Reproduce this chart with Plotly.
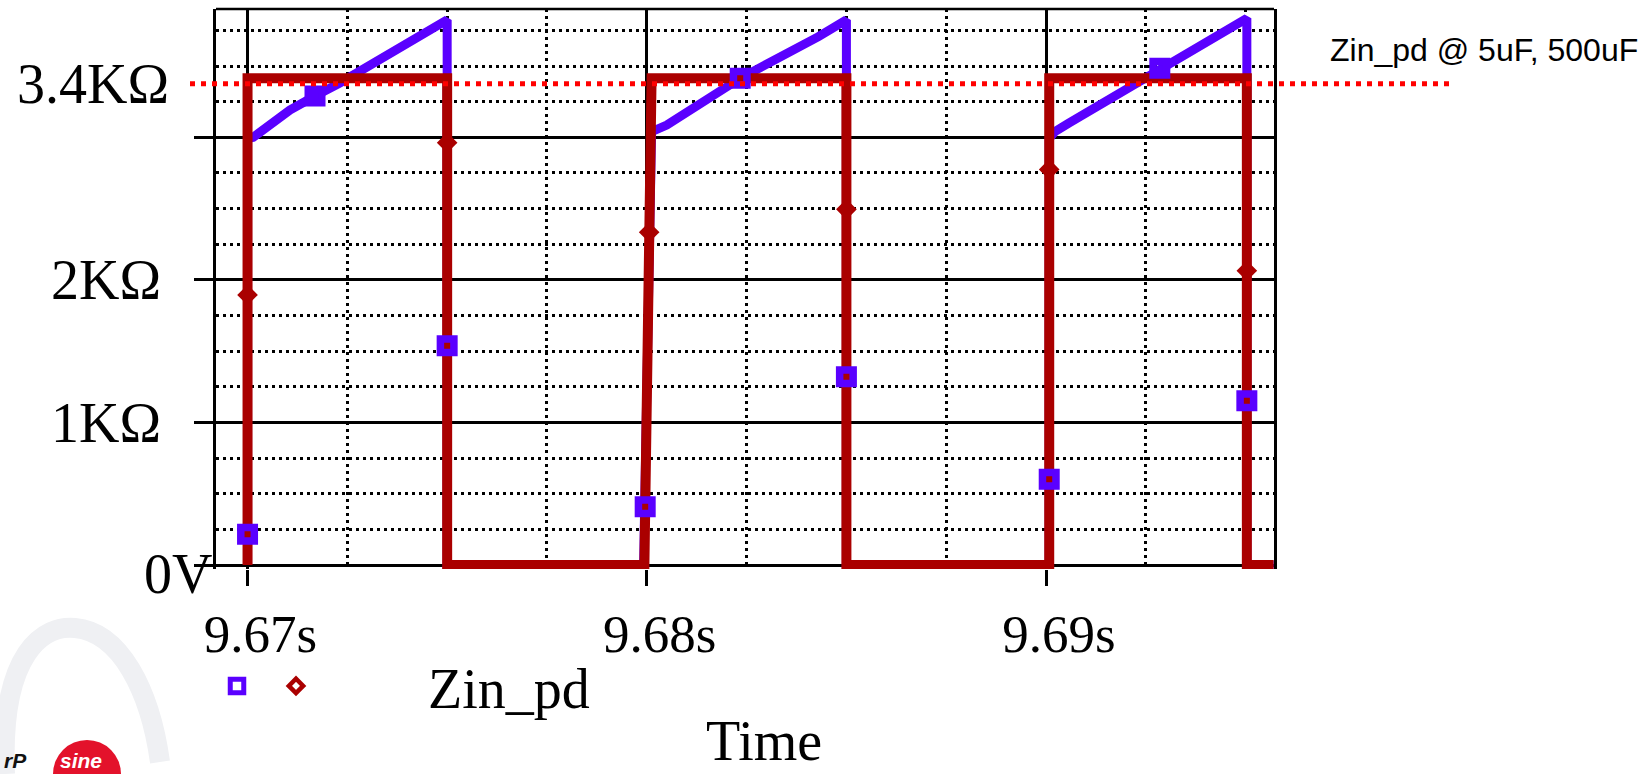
import plotly.graph_objects as go

# ---------------- data ----------------
# Blue trace (Zin_pd, 5uF case) - line vertices (time s, ohms)
blue_t = [9.67000, 9.67000, 9.67014, 9.67045, 9.67066, 9.67106, 9.67169, 9.67231, 9.67500, 9.67500,
          9.67992, 9.68012, 9.68050, 9.68234, 9.68430, 9.68500, 9.68500,
          9.69008, 9.69008, 9.69022, 9.69056, 9.69285, 9.69437, 9.69503, 9.69503, 9.69570]
blue_v = [0, 2990, 3000, 3065, 3107, 3191, 3290, 3381, 3823, 0,
          0, 3039, 3086, 3414, 3706, 3823, 0,
          0, 2990, 3039, 3098, 3484, 3729, 3835, 0, 0]

# Red trace (Zin_pd, 500uF case) - line vertices
red_t = [9.67000, 9.67000, 9.67500, 9.67500, 9.67994, 9.68012, 9.68500, 9.68500,
         9.69008, 9.69008, 9.69503, 9.69503, 9.69570]
red_v = [0, 3415, 3415, 0, 0, 3415, 3415, 0,
         0, 3415, 3415, 0, 0]

# Marker sample points
blue_mk_t = [9.67000, 9.67169, 9.67500, 9.67996, 9.68234, 9.68500, 9.69008, 9.69285, 9.69503]
blue_mk_v = [216, 3290, 1538, 409, 3414, 1320, 601, 3484, 1152]
red_mk_t = [9.67000, 9.67500, 9.68006, 9.68500, 9.69008, 9.69503]
red_mk_v = [1894, 2962, 2334, 2495, 2775, 2064]

x_tick_vals = [9.67, 9.68, 9.69]
x_tick_text = ["9.67s", "9.68s", "9.69s"]
y_tick_vals = [0, 1000, 2000, 3000]
y_tick_text = ["", "1K\u03a9", "2K\u03a9", ""]
zero_label = "0V"
ref_level = 3375
ref_label = "3.4K\u03a9"
series_name = "Zin_pd"
note_text = "Zin_pd @ 5uF, 500uF"

BLUE = "#5a00ff"
RED = "#aa0000"
SERIF = "Liberation Serif"

# ---------------- geometry helpers (pixel -> paper) ----------------
W, H = 1652, 774
ML, MR, MT, MB = 216, 378, 9, 205
PW = W - ML - MR
PH = H - MT - MB


def px(xp):
    return (xp - ML) / PW


def py(yp):
    return (H - MB - yp) / PH


fig = go.Figure()
fig.add_trace(go.Scatter(x=blue_t, y=blue_v, mode="lines", line=dict(color=BLUE, width=9),
                         showlegend=False, hoverinfo="skip"))
fig.add_trace(go.Scatter(x=red_t, y=red_v, mode="lines", line=dict(color=RED, width=10),
                         showlegend=False, hoverinfo="skip"))
fig.add_trace(go.Scatter(x=blue_mk_t, y=blue_mk_v, mode="markers", name="\u00a0",
                         marker=dict(symbol="square-open", size=13.5, color=BLUE,
                                     line=dict(color=BLUE, width=7.5)),
                         cliponaxis=False))
fig.add_trace(go.Scatter(x=red_mk_t, y=red_mk_v, mode="markers",
                         name="\u00a0" * 8 + series_name,
                         marker=dict(symbol="diamond-open", size=11, color=RED,
                                     line=dict(color=RED, width=4.5)),
                         cliponaxis=False))

grid_dash = "3px,4px"
fig.update_xaxes(
    range=[9.66921, 9.69571],
    tickmode="array", tickvals=x_tick_vals, ticktext=x_tick_text,
    ticks="outside", ticklen=16, tickwidth=2.5, tickcolor="black",
    showgrid=True, gridcolor="black", gridwidth=2.5,
    showline=False, zeroline=False,
    tickfont=dict(family=SERIF, size=53, color="black"),
    ticklabelshift=13, ticklabelstandoff=2,
    minor=dict(tickmode="linear", tick0=9.67, dtick=0.0025, showgrid=True,
               gridcolor="black", gridwidth=2.5, griddash=grid_dash, ticks=""),
)
fig.update_yaxes(
    range=[-28, 3900],
    tickmode="array", tickvals=y_tick_vals, ticktext=y_tick_text,
    ticks="outside", ticklen=19, tickwidth=2.5, tickcolor="black",
    showgrid=True, gridcolor="black", gridwidth=2.5,
    showline=True, linecolor="black", linewidth=2.5, mirror=True,
    zeroline=True, zerolinecolor="black", zerolinewidth=2.5,
    tickfont=dict(family=SERIF, size=56, color="black"),
    ticklabelstandoff=22,
    minor=dict(tickmode="linear", tick0=0, dtick=250, showgrid=True,
               gridcolor="black", gridwidth=2.5, griddash=grid_dash, ticks=""),
)

shapes = [
    # top frame line
    dict(type="line", xref="paper", yref="paper", x0=0, x1=1, y0=1, y1=1,
         line=dict(color="black", width=2.5), layer="below"),
    # reference level dotted line
    dict(type="line", xref="paper", yref="y", x0=px(190), x1=px(1449), y0=ref_level, y1=ref_level,
         line=dict(color="#ff0000", width=5, dash="5px,6px"), layer="above"),
    # faint watermark swoosh
    dict(type="path", xref="paper", yref="paper",
         path=(f"M {px(5)},{py(774)} C {px(0)},{py(650)} {px(45)},{py(625)} {px(75)},{py(628)} "
               f"C {px(120)},{py(632)} {px(150)},{py(690)} {px(160)},{py(762)}"),
         line=dict(color="#eff0f3", width=20), layer="below"),
    # logo red disc
    dict(type="circle", xref="paper", yref="paper", x0=px(53), x1=px(121), y0=py(808), y1=py(740),
         fillcolor="#e3122b", line=dict(width=0), layer="above"),
]

annotations = [
    dict(text=ref_label, xref="paper", yref="y", x=px(171), y=ref_level, xanchor="right",
         yanchor="middle", showarrow=False, font=dict(family=SERIF, size=56, color="black")),
    dict(text=zero_label, xref="paper", yref="paper", x=px(214), y=py(574), xanchor="right",
         yanchor="middle", showarrow=False, font=dict(family=SERIF, size=56, color="black")),
    dict(text=note_text, xref="paper", yref="paper", x=px(1328), y=py(50), xanchor="left",
         yanchor="middle", showarrow=False,
         font=dict(family="Liberation Sans", size=32, color="black")),
    dict(text="Time", xref="paper", yref="paper", x=px(764), y=py(774), xanchor="center",
         yanchor="bottom", showarrow=False, font=dict(family=SERIF, size=56, color="black")),
    dict(text="<b><i>rP</i></b>", xref="paper", yref="paper", x=px(2), y=py(774), xanchor="left",
         yanchor="bottom", showarrow=False,
         font=dict(family="Liberation Sans", size=21, color="#111111")),
    dict(text="<b><i>sine</i></b>", xref="paper", yref="paper", x=px(58), y=py(774), xanchor="left",
         yanchor="bottom", showarrow=False,
         font=dict(family="Liberation Sans", size=21, color="#ffffff")),
]

fig.update_layout(
    width=W, height=H, autosize=False,
    margin=dict(l=ML, r=MR, t=MT, b=MB, autoexpand=False),
    plot_bgcolor="white", paper_bgcolor="white",
    shapes=shapes, annotations=annotations,
    showlegend=True,
    legend=dict(orientation="h", x=px(217), y=py(686), xanchor="left", yanchor="middle",
                font=dict(family=SERIF, size=56, color="black"),
                bgcolor="rgba(0,0,0,0)", borderwidth=0, itemwidth=30,
                itemclick=False, itemdoubleclick=False),
)

fig.write_html("out.html", config={"displayModeBar": False},
               post_script="document.body.style.margin='0px';")
